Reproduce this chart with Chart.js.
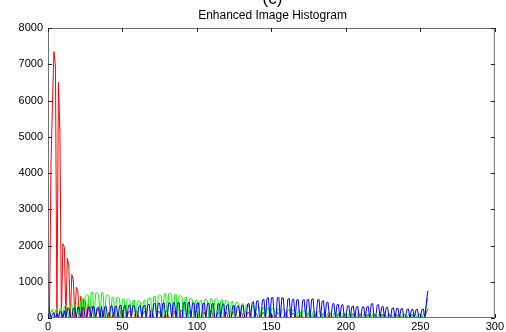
<!DOCTYPE html>
<html>
<head>
<meta charset="utf-8">
<script src="https://cdn.jsdelivr.net/npm/chart.js@4"></script>
<style>
  html, body { margin: 0; padding: 0; background: #fff; }
  #wrap { position: relative; width: 506px; height: 332px; overflow: hidden; }
  #tag { position: absolute; left: 0; width: 545px; top: -11px; text-align: center; font: 17px 'Liberation Sans', Arial, sans-serif; color: #000; }
  #title { position: absolute; left: 0; width: 545px; top: 8px; text-align: center; font: 12px 'Liberation Sans', Arial, sans-serif; color: #000; }
  canvas { position: absolute; left: 0; top: 0; }
</style>
</head>
<body>
<div id="wrap">
  <canvas id="hist" width="506" height="332"></canvas>
  <div id="tag">(c)</div>
  <div id="title">Enhanced Image Histogram</div>
</div>
<script>
// histogram counts for bins 0..255
const red = [
  1350, 0, 4250, 5900, 7350, 6950, 0, 6500, 5150, 0, 2050, 1950, 0, 1650, 1450, 0,
  1200, 1050, 0, 850, 750, 0, 600, 0, 520, 480, 0, 400, 0, 330, 300, 0,
  0, 250, 230, 0, 0, 200, 180, 0, 0, 160, 0, 0, 150, 170, 0, 0,
  0, 190, 210, 0, 0, 0, 170, 190, 0, 0, 0, 200, 180, 0, 0, 0,
  160, 190, 0, 0, 0, 210, 200, 0, 0, 0, 180, 170, 0, 0, 0, 190,
  200, 0, 0, 0, 170, 180, 0, 0, 0, 200, 210, 0, 0, 0, 220, 190,
  0, 0, 0, 180, 200, 0, 0, 0, 170, 160, 0, 0, 0, 190, 180, 0,
  0, 0, 150, 170, 0, 0, 0, 160, 150, 0, 0, 0, 170, 160, 0, 0,
  0, 140, 150, 0, 0, 0, 160, 140, 0, 0, 0, 150, 130, 0, 0, 0,
  140, 150, 0, 0, 0, 130, 140, 0, 0, 0, 150, 130, 0, 0, 0, 120,
  140, 0, 0, 0, 130, 120, 0, 0, 0, 110, 130, 0, 0, 0, 120, 110,
  0, 0, 0, 100, 120, 0, 0, 0, 110, 100, 0, 0, 0, 120, 100, 0,
  0, 0, 90, 110, 0, 0, 0, 100, 90, 0, 0, 0, 100, 110, 0, 0,
  0, 90, 100, 0, 0, 0, 80, 100, 0, 0, 0, 90, 80, 0, 0, 0,
  90, 100, 0, 0, 0, 80, 90, 0, 0, 0, 90, 80, 0, 0, 0, 100,
  90, 0, 0, 0, 80, 90, 0, 0, 0, 90, 100, 0, 0, 0, 150, 250
];
const green = [
  650, 0, 150, 250, 0, 200, 280, 0, 250, 300, 0, 320, 350, 300, 0, 330,
  380, 0, 350, 400, 380, 0, 450, 550, 0, 600, 650, 620, 0, 700, 720, 0,
  680, 700, 650, 0, 700, 680, 0, 620, 650, 600, 0, 580, 560, 0, 550, 580,
  540, 0, 520, 540, 0, 500, 520, 480, 0, 480, 500, 0, 460, 480, 440, 0,
  450, 500, 0, 520, 560, 540, 0, 580, 600, 0, 620, 640, 610, 0, 650, 680,
  0, 660, 690, 650, 0, 640, 660, 0, 600, 620, 580, 0, 560, 580, 0, 520,
  540, 500, 0, 480, 500, 0, 460, 480, 0, 500, 520, 490, 0, 520, 540, 0,
  510, 530, 500, 0, 490, 510, 0, 470, 490, 460, 0, 440, 460, 0, 420, 440,
  400, 0, 380, 400, 0, 350, 370, 340, 0, 320, 340, 0, 300, 320, 290, 0,
  280, 300, 0, 260, 280, 0, 250, 270, 240, 0, 240, 260, 0, 230, 250, 220,
  0, 220, 240, 0, 210, 230, 200, 0, 200, 220, 0, 190, 210, 180, 0, 180,
  200, 0, 170, 190, 0, 160, 180, 150, 0, 150, 170, 0, 140, 160, 130, 0,
  140, 150, 0, 130, 150, 0, 120, 140, 110, 0, 120, 140, 0, 110, 130, 0,
  120, 130, 110, 0, 110, 130, 0, 100, 120, 0, 110, 120, 100, 0, 100, 120,
  0, 100, 110, 0, 90, 110, 100, 0, 100, 110, 0, 90, 100, 0, 100, 110,
  90, 0, 90, 110, 0, 100, 110, 90, 0, 100, 120, 0, 110, 150, 300, 550
];
const blue = [
  500, 200, 0, 100, 150, 0, 120, 0, 180, 150, 0, 200, 0, 250, 280, 0,
  0, 260, 280, 0, 300, 280, 0, 270, 300, 0, 0, 280, 300, 0, 320, 300,
  0, 280, 300, 0, 320, 0, 300, 330, 0, 0, 320, 340, 0, 310, 330, 0,
  330, 350, 0, 320, 340, 0, 340, 360, 0, 330, 350, 0, 0, 320, 340, 0,
  330, 350, 0, 360, 380, 0, 0, 390, 400, 0, 400, 410, 0, 400, 420, 0,
  0, 410, 420, 0, 410, 430, 0, 420, 430, 0, 0, 420, 440, 0, 420, 430,
  0, 410, 420, 0, 400, 420, 0, 0, 400, 410, 0, 390, 410, 0, 390, 400,
  0, 0, 380, 400, 0, 370, 390, 0, 350, 370, 0, 0, 330, 350, 0, 320,
  340, 0, 330, 350, 0, 0, 380, 400, 0, 420, 450, 0, 460, 480, 0, 0,
  500, 520, 0, 540, 560, 0, 560, 570, 0, 0, 560, 570, 0, 560, 550, 0,
  0, 520, 540, 0, 500, 520, 0, 500, 510, 0, 0, 490, 510, 0, 500, 520,
  0, 510, 530, 0, 0, 500, 510, 0, 460, 480, 0, 420, 440, 0, 0, 380,
  400, 0, 360, 380, 0, 350, 370, 0, 0, 330, 340, 0, 310, 330, 0, 300,
  320, 0, 0, 300, 310, 0, 300, 320, 0, 380, 400, 0, 0, 350, 370, 0,
  300, 320, 0, 280, 300, 0, 0, 270, 280, 0, 260, 270, 0, 250, 260, 0,
  0, 240, 250, 0, 230, 240, 0, 220, 240, 0, 0, 230, 250, 0, 400, 750
];
const xTicks = [0, 50, 100, 150, 200, 250, 300];
const yTicks = [0, 1000, 2000, 3000, 4000, 5000, 6000, 7000, 8000];

const toPoints = arr => arr.map((v, i) => ({ x: i, y: v }));

// matlab style box with inward ticks on all four sides
const axisBox = {
  id: 'axisBox',
  afterDatasetsDraw(chart) {
    const { ctx, chartArea: a, scales: { x, y } } = chart;
    ctx.save();
    ctx.strokeStyle = '#707070';
    ctx.lineWidth = 1;
    ctx.strokeRect(a.left + 0.5, a.top + 0.5, a.width - 1, a.height - 1);
    ctx.strokeStyle = '#202020';
    ctx.beginPath();
    x.ticks.forEach(t => {
      const px = Math.round(x.getPixelForValue(t.value)) + 0.5;
      ctx.moveTo(px, a.bottom); ctx.lineTo(px, a.bottom - 4);
      ctx.moveTo(px, a.top); ctx.lineTo(px, a.top + 4);
    });
    y.ticks.forEach(t => {
      const py = Math.round(y.getPixelForValue(t.value)) + 0.5;
      ctx.moveTo(a.left, py); ctx.lineTo(a.left + 4, py);
      ctx.moveTo(a.right, py); ctx.lineTo(a.right - 4, py);
    });
    ctx.stroke();
    ctx.restore();
  }
};

const line = (data, color, order) => ({
  data: toPoints(data),
  borderColor: color,
  borderWidth: 1,
  pointRadius: 0,
  tension: 0,
  order: order
});

const tickFont = { family: "'Liberation Sans', Arial, sans-serif", size: 11 };

new Chart(document.getElementById('hist'), {
  type: 'line',
  data: {
    datasets: [
      line(red, '#ff0000', 3),
      line(green, '#00ff00', 2),
      line(blue, '#0000ff', 1)
    ]
  },
  options: {
    responsive: false,
    animation: false,
    layout: { autoPadding: false, padding: { top: 28, right: 9, left: 0, bottom: 0 } },
    plugins: { legend: { display: false }, tooltip: { enabled: false } },
    scales: {
      x: {
        type: 'linear', min: 0, max: 300,
        afterFit: s => { s.height = 14; },
        afterBuildTicks: s => { s.ticks = xTicks.map(v => ({ value: v })); },
        grid: { display: false, drawTicks: false, tickLength: 0 },
        border: { display: false },
        ticks: { padding: 2, maxRotation: 0, autoSkip: false, color: '#000', font: tickFont, callback: v => String(v) }
      },
      y: {
        min: 0, max: 8000,
        afterFit: s => { s.width = 48; },
        afterBuildTicks: s => { s.ticks = yTicks.map(v => ({ value: v })); },
        grid: { display: false, drawTicks: false, tickLength: 0 },
        border: { display: false },
        ticks: { padding: 5, autoSkip: false, color: '#000', font: tickFont, callback: v => String(v) }
      }
    }
  },
  plugins: [axisBox]
});
</script>
</body>
</html>
